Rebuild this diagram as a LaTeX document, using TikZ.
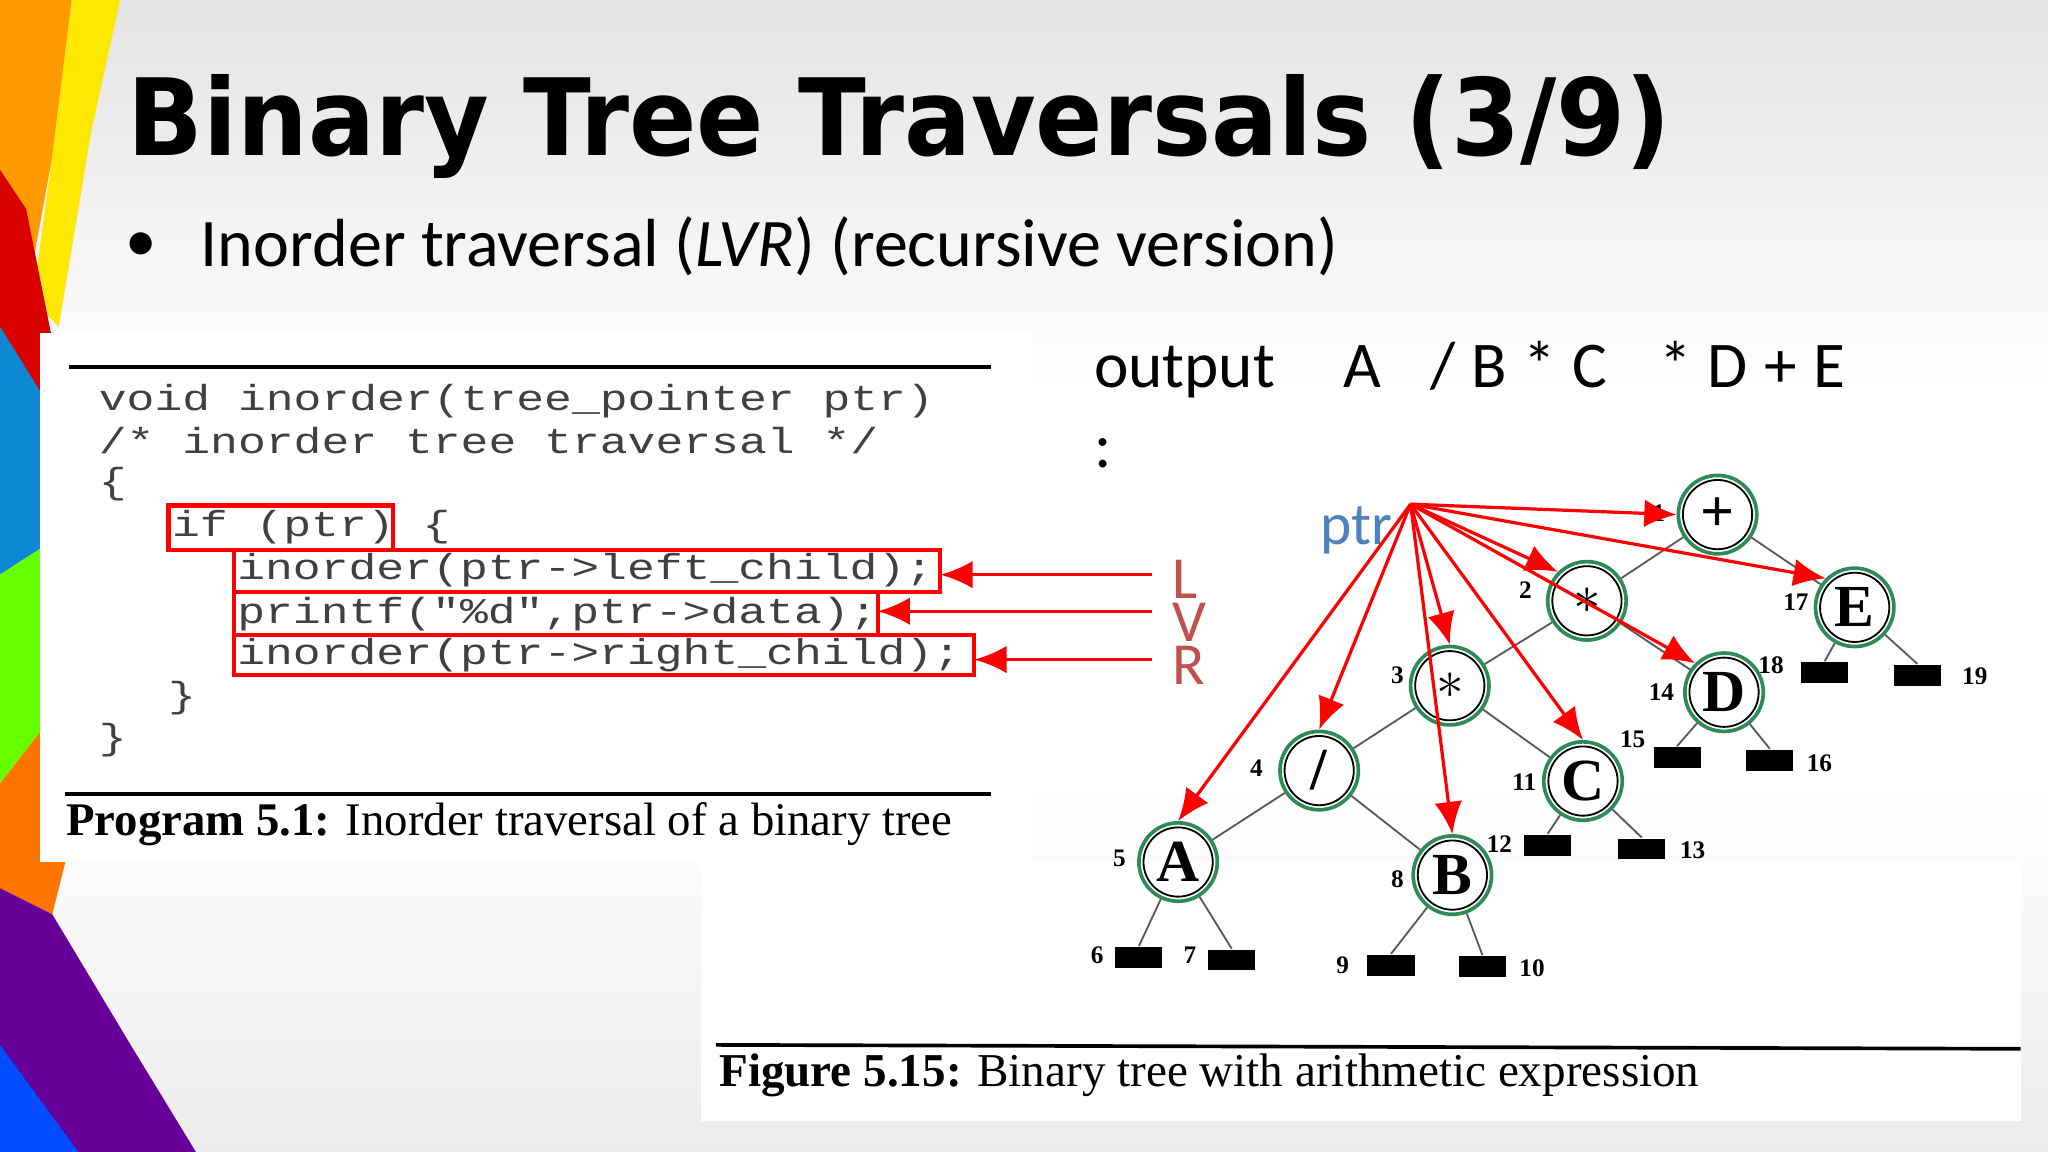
\documentclass[tikz,border=0pt]{standalone}
\usepackage{fontspec}
\setmainfont{Liberation Serif}
\newfontfamily\titlef{DejaVu Sans}
\newfontfamily\calf{Carlito}
\newfontfamily\monof{Liberation Mono}
\usetikzlibrary{arrows.meta}
\definecolor{lvr}{HTML}{C0504D}
\definecolor{ptrc}{HTML}{4F81BD}
\definecolor{grn}{HTML}{2E8B57}
\newcommand{\cl}[1]{\scalebox{1}[0.78]{#1}}
\tikzset{
  codeline/.style={anchor=base west,inner sep=0pt,text=black!75,font=\monof\fontsize{10.1}{12}\selectfont},
  redbox/.style={draw=red,line width=0.9pt},
  redarr/.style={red,line width=0.7pt,-{Latex[length=7pt,width=6pt]}},
  tnode/.style={circle,draw=grn,line width=0.8pt,minimum size=0.6cm,inner sep=0pt,
     font=\bfseries\fontsize{13}{13}\selectfont},
  inring/.style={draw=black,line width=0.4pt},
  leaf/.style={fill=black,minimum width=0.36cm,minimum height=0.16cm,inner sep=0pt},
  num/.style={font=\bfseries\fontsize{5.5}{5.5}\selectfont,inner sep=0pt},
  edge/.style={gray!70!black,line width=0.4pt},
}
\begin{document}
\begin{tikzpicture}[x=0.01cm,y=-0.01cm]
\useasboundingbox (0,0) rectangle (1568,882);
% background
\shade[top color=gray!22,bottom color=white] (0,0) rectangle (1568,300);
\fill[white] (0,300) rectangle (1568,600);
\shade[top color=white,bottom color=gray!15] (0,600) rectangle (1568,882);
% left stripes
\fill[orange!80!yellow] (0,0) -- (55,0) -- (40,120) -- (20,230) -- (0,260) -- cycle;
\fill[yellow!90!orange] (55,0) -- (92,0) -- (70,100) -- (45,250) -- (25,230) -- (40,120) -- cycle;
\fill[red!85!black] (0,130) -- (20,160) -- (40,260) -- (31,300) -- (0,280) -- cycle;
\fill[cyan!70!blue] (0,250) -- (31,300) -- (31,420) -- (0,440) -- cycle;
\fill[green!60!yellow] (0,440) -- (31,420) -- (31,560) -- (0,600) -- cycle;
\fill[orange!90!red] (0,600) -- (31,560) -- (31,660) -- (50,660) -- (40,700) -- (0,680) -- cycle;
\fill[violet!80!blue] (0,680) -- (40,700) -- (100,800) -- (150,882) -- (0,882) -- cycle;
\fill[blue!70!cyan] (0,800) -- (60,882) -- (0,882) -- cycle;
% white panels
\fill[white] (31,255) rectangle (790,660);
\fill[white] (537,660) rectangle (1547,858);
% title
\node[anchor=base west,inner sep=0pt] (title) at (97,119) {\resizebox{11.81cm}{0.62cm}{\titlef\bfseries Binary Tree Traversals (3/9)}};
\node[anchor=base west,inner sep=0pt] (bul) at (95,200) {\resizebox{!}{0.22cm}{\calf •}};
\node[anchor=base west,inner sep=0pt] (sub) at (153,204) {\resizebox{8.70cm}{!}{\calf Inorder traversal (\textit{LVR}) (recursive version)}};
% code
\draw[line width=0.8pt] (53,281) -- (759,281);
\node[codeline] (c1) at (75,314) {\cl{void inorder(tree\_pointer ptr)}};
\node[codeline] (c2) at (75,347) {\cl{/* inorder tree traversal */}};
\node[codeline] (c3) at (75,378) {\cl{\{}};
\node[codeline] (c4) at (131,411) {\cl{if (ptr)} \cl{\{}};
\node[codeline] (c5) at (181,444) {\cl{inorder(ptr->left\_child);}};
\node[codeline] (c6) at (181,477) {\cl{printf("\%d",ptr->data);}};
\node[codeline] (c7) at (181,509) {\cl{inorder(ptr->right\_child);}};
\node[codeline] (c8) at (128,542) {\cl{\}}};
\node[codeline] (c9) at (75,574) {\cl{\}}};
\draw[line width=0.8pt] (50,608) -- (759,608);
\node[anchor=base west,inner sep=0pt] (cap1) at (50,640) {\resizebox{6.78cm}{!}{\textbf{Program 5.1:} Inorder traversal of a binary tree}};
% red boxes
\draw[redbox] (129,387) rectangle (301,421);
\draw[redbox] (179,421) rectangle (720,453);
\draw[redbox] (179,453) rectangle (672,486);
\draw[redbox] (179,486) rectangle (746,517);
\coordinate (eL) at (720,440); \coordinate (eV) at (672,468); \coordinate (eR) at (746,505);
\coordinate (sL) at (882,440); \coordinate (sV) at (882,468); \coordinate (sR) at (882,505);
\draw[redarr] (sL) -- (eL);
\draw[redarr] (sV) -- (eV);
\draw[redarr] (sR) -- (eR);
\node[anchor=base west,inner sep=0pt,text=lvr,font=\calf\fontsize{13}{13}\selectfont] (L) at (897,458) {L};
\node[anchor=base west,inner sep=0pt,text=lvr,font=\calf\fontsize{13}{13}\selectfont] (V) at (897,491) {V};
\node[anchor=base west,inner sep=0pt,text=lvr,font=\calf\fontsize{13}{13}\selectfont] (R) at (897,524) {R};
% output
\node[anchor=base west,inner sep=0pt,font=\calf\fontsize{14.2}{15}\selectfont] (out) at (837,297) {output\hspace{1.05em}A\hspace{0.75em}/\hspace{0.25em}B\hspace{0.25em}*\hspace{0.25em}C\hspace{0.8em}*\hspace{0.25em}D\hspace{0.25em}+\hspace{0.25em}E};
\node[anchor=base west,inner sep=0pt,font=\calf\fontsize{14.2}{15}\selectfont] (colon) at (837,358) {:};
% figure caption
\draw[line width=0.8pt] (548,800) -- (1547,803);
\node[anchor=base west,inner sep=0pt] (cap2) at (550,832) {\resizebox{7.5cm}{!}{\textbf{Figure 5.15:} Binary tree with arithmetic expression}};
% tree
\node[tnode] (n1) at (1315,394) {+};
\node[tnode] (n2) at (1215,460) {$\ast$};
\node[tnode] (n17) at (1420,465) {E};
\node[tnode] (n3) at (1110,525) {$\ast$};
\node[tnode] (n14) at (1320,530) {D};
\node[tnode] (n4) at (1010,590) {/};
\node[tnode] (n11) at (1212,598) {C};
\node[tnode] (n5) at (902,660) {A};
\node[tnode] (n8) at (1112,670) {B};
\foreach \n in {n1,n2,n17,n3,n14,n4,n11,n5,n8}
  \draw[inring] (\n.center) circle (0.265cm);
\node[leaf] (l6) at (872,733) {};
\node[leaf] (l7) at (943,735) {};
\node[leaf] (l9) at (1065,739) {};
\node[leaf] (l10) at (1135,740) {};
\node[leaf] (l12) at (1185,647) {};
\node[leaf] (l13) at (1257,650) {};
\node[leaf] (l15) at (1284,580) {};
\node[leaf] (l16) at (1355,582) {};
\node[leaf] (l18) at (1397,515) {};
\node[leaf] (l19) at (1468,517) {};
\foreach \a/\b in {n1/n2,n1/n17,n2/n3,n2/n14,n3/n4,n3/n11,n4/n5,n4/n8}
  \draw[edge] (\a) -- (\b);
\foreach \a/\b in {n5/l6,n5/l7,n8/l9,n8/l10,n11/l12,n11/l13,n14/l15,n14/l16,n17/l18,n17/l19}
  \draw[edge] (\a) -- (\b.north);
\foreach \t/\x/\y in {1/1270/393,2/1168/452,17/1375/461,3/1070/517,14/1272/530,18/1356/509,19/1512/518,15/1250/566,16/1393/584,4/962/588,11/1167/599,12/1148/646,13/1296/651,5/857/657,8/1070/673,6/840/731,7/911/731,9/1028/739,10/1173/741}
  \node[num] at (\x,\y) {\t};
% ptr
\node[anchor=base west,inner sep=0pt,text=ptrc,font=\calf\fontsize{13}{13}\selectfont] (ptr) at (1010,417) {ptr};
\coordinate (p) at (1080,386);
\draw[redarr] (p) -- (n1.west);
\draw[redarr] (p) -- (n2.north west);
\draw[redarr] (p) -- (n17.north west);
\draw[redarr] (p) -- (n14.north west);
\draw[redarr] (p) -- (n3.north);
\draw[redarr] (p) -- (n11.north);
\draw[redarr] (p) -- (n4.north);
\draw[redarr] (p) -- (n8.north);
\draw[redarr] (p) -- (n5.north);
\end{tikzpicture}
\end{document}
